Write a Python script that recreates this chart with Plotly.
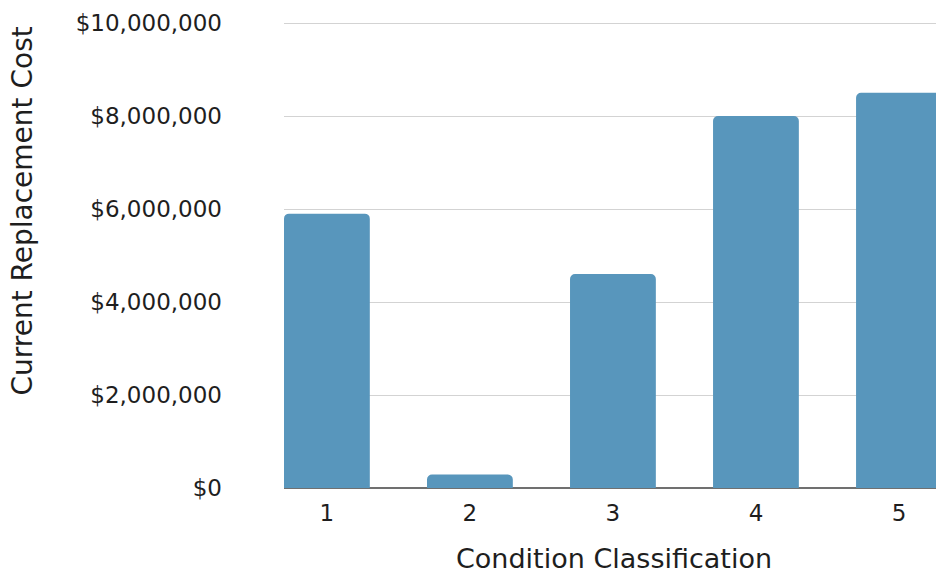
import plotly.graph_objects as go

# Current replacement cost by condition classification
conditions = [1, 2, 3, 4, 5]
replacement_cost = [5900000, 290000, 4600000, 8000000, 8500000]
y_ticks = [0, 2000000, 4000000, 6000000, 8000000, 10000000]
y_tick_labels = ["$0", "$2,000,000", "$4,000,000", "$6,000,000", "$8,000,000", "$10,000,000"]

FONT = "DejaVu Sans"
TEXT_COLOR = "#1e1e1e"
BAR_COLOR = "#5896bc"

# plot area: 46.5 px per million, a little headroom so the top gridline is drawn
PLOT_LEFT = 284
PLOT_TOP = 20
PLOT_BOTTOM = 488
PLOT_W = 936 - PLOT_LEFT
Y_MAX = (PLOT_BOTTOM - PLOT_TOP) / 46.5 * 1e6

fig = go.Figure(
    go.Bar(
        x=conditions,
        y=replacement_cost,
        width=0.6,
        marker=dict(color=BAR_COLOR, cornerradius=5, line=dict(width=0)),
        hoverinfo="x+y",
    )
)

fig.update_layout(
    width=936,
    height=576,
    margin=dict(l=PLOT_LEFT, r=0, t=PLOT_TOP, b=576 - PLOT_BOTTOM),
    paper_bgcolor="white",
    plot_bgcolor="white",
    showlegend=False,
    font=dict(family=FONT, color=TEXT_COLOR),
    xaxis=dict(
        range=[0.7, 5.259],
        tickmode="array",
        tickvals=conditions,
        ticktext=[str(c) for c in conditions],
        showgrid=False,
        zeroline=False,
        showline=False,
        ticks="",
        tickfont=dict(size=23, family=FONT, color=TEXT_COLOR),
        ticklabelstandoff=9,
    ),
    yaxis=dict(
        range=[0, Y_MAX],
        tickmode="array",
        tickvals=y_ticks,
        ticktext=y_tick_labels,
        showgrid=True,
        gridcolor="#d3d3d3",
        gridwidth=1,
        zeroline=True,
        zerolinecolor="#707070",
        zerolinewidth=1.5,
        showline=False,
        ticks="",
        tickfont=dict(size=23, family=FONT, color=TEXT_COLOR),
        ticklabelstandoff=61,
    ),
    annotations=[
        dict(
            text="Current Replacement Cost",
            xref="paper", yref="paper",
            x=(21.5 - PLOT_LEFT) / PLOT_W, y=(PLOT_BOTTOM - 211) / (PLOT_BOTTOM - PLOT_TOP),
            xanchor="center", yanchor="middle",
            textangle=-90,
            showarrow=False,
            font=dict(size=28, family=FONT, color=TEXT_COLOR),
        ),
        dict(
            text="Condition Classification",
            xref="paper", yref="paper",
            x=(614 - PLOT_LEFT) / PLOT_W, y=0,
            xanchor="center", yanchor="middle",
            yshift=-70,
            showarrow=False,
            font=dict(size=27, family=FONT, color=TEXT_COLOR),
        ),
    ],
)

fig.write_html("out.html")
